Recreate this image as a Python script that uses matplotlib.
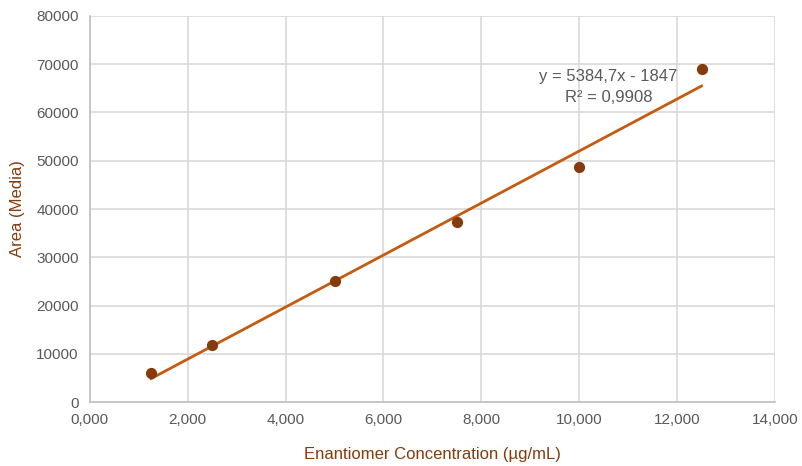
import numpy as np
import matplotlib.pyplot as plt

# Calibration data: concentration (µg/mL) vs mean peak area
conc = [1.25, 2.5, 5.0, 7.5, 10.0, 12.5]
area = [6100, 11900, 25100, 37300, 48700, 68900]

# Linear trendline coefficients
slope = 5384.7
intercept = -1847
r2 = 0.9908

plt.rcParams['font.family'] = ['Liberation Sans', 'DejaVu Sans']

fig = plt.figure(figsize=(8.03, 4.66), dpi=100)
ax = fig.add_axes([0.112, 0.137, 0.853, 0.829])

grid_c = '#D9D9D9'
tick_c = '#595959'
title_c = '#843C0C'

# trendline over the data range
xs = np.array([min(conc), max(conc)])
ax.plot(xs, slope * xs + intercept, color='#C55A11', lw=2, zorder=2)
ax.scatter(conc, area, s=50, color='#843C0C', zorder=3)

ax.text(10.6, 65300, f'y = {slope:.1f}x - {abs(intercept)}'.replace('.', ',') + '\n' +
        f'R² = {r2:.4f}'.replace('.', ','),
        ha='center', va='center', fontsize=12, color=tick_c, linespacing=1.45)

ax.set_xlim(0, 14)
ax.set_ylim(0, 80000)
ax.set_xticks(np.arange(0, 15, 2))
ax.set_xticklabels([f'{v:.3f}'.replace('.', ',') for v in np.arange(0, 15, 2)])
ax.set_yticks(np.arange(0, 80001, 10000))
ax.set_yticklabels([str(v) for v in range(0, 80001, 10000)])

ax.grid(True, color=grid_c, lw=1.2)
ax.set_axisbelow(True)
for s in ['top', 'right']:
    ax.spines[s].set_visible(False)
for s in ['left', 'bottom']:
    ax.spines[s].set_color('#BFBFBF')
    ax.spines[s].set_linewidth(1.2)
ax.tick_params(length=0, labelsize=11, colors=tick_c, pad=8)

ax.set_xlabel('Enantiomer Concentration (µg/mL)', fontsize=12, color=title_c, labelpad=14)
ax.set_ylabel('Area (Media)', fontsize=12, color=title_c, labelpad=8)

fig.savefig('out.png', dpi=100)
